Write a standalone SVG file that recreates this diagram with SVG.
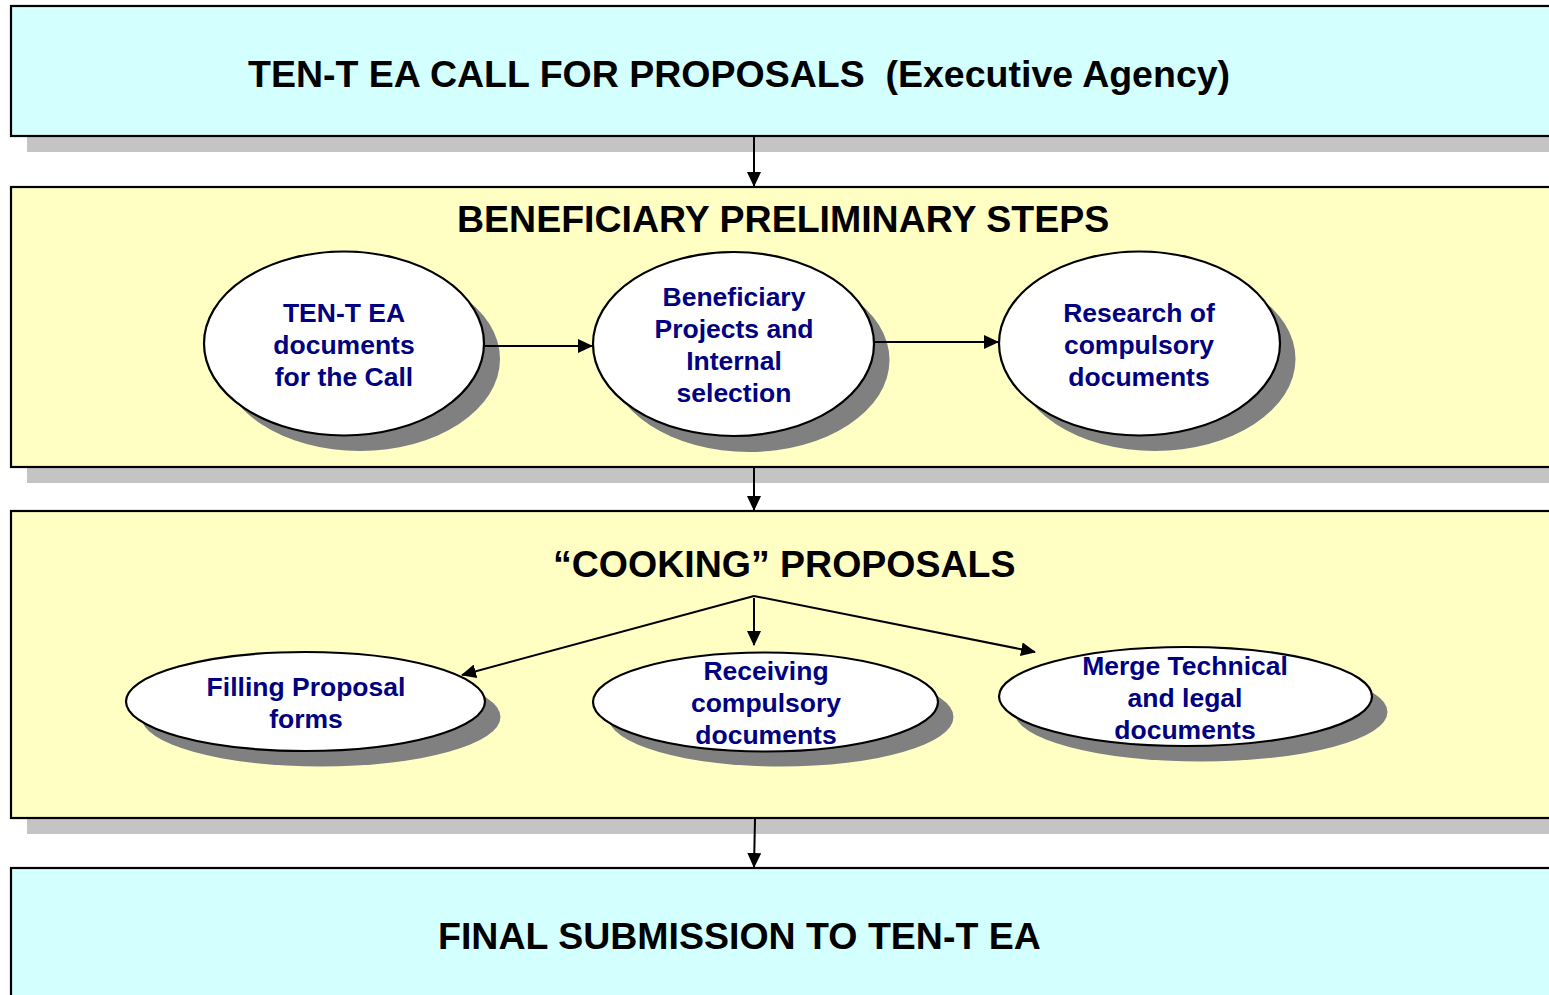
<svg xmlns="http://www.w3.org/2000/svg" width="1549" height="995" viewBox="0 0 1549 995">
<style>
.box{stroke:#000;stroke-width:2.2}
.cyan{fill:#d4ffff}
.yel{fill:#ffffc4}
.bsh{fill:#c4c4c4}
.esh{fill:#808080}
.ell{fill:#fff;stroke:#000;stroke-width:2.2}
.title{font-family:"Liberation Sans",Arial,sans-serif;font-weight:bold;font-size:37.5px;fill:#000}
.lbl{font-family:"Liberation Sans",Arial,sans-serif;font-weight:bold;font-size:26.5px;fill:#000080;text-anchor:middle}
.con{stroke:#000;stroke-width:2;fill:none;marker-end:url(#ah)}
</style>
<defs>
<marker id="ah" markerWidth="15" markerHeight="14" refX="14" refY="7" orient="auto" markerUnits="userSpaceOnUse">
<path d="M0,0 L15,7 L0,14 z" fill="#000"/>
</marker>
</defs>
<rect width="1549" height="995" fill="#fff"/>

<g id="box-call">
<rect class="bsh" x="27" y="136" width="1540" height="16"/>
<rect class="box cyan" x="11" y="6" width="1560" height="130"/>
<text class="title" x="248" y="87" xml:space="preserve">TEN-T EA CALL FOR PROPOSALS  (Executive Agency)</text>
</g>

<g id="box-preliminary">
<rect class="bsh" x="27" y="467" width="1540" height="16"/>
<rect class="box yel" x="11" y="187" width="1560" height="280"/>
<text class="title" x="457" y="232">BENEFICIARY PRELIMINARY STEPS</text>
</g>

<g id="box-cooking">
<rect class="bsh" x="27" y="818" width="1540" height="16"/>
<rect class="box yel" x="11" y="511" width="1560" height="307"/>
<text class="title" x="553" y="577">“COOKING” PROPOSALS</text>
</g>

<g id="box-final">
<rect class="box cyan" x="11" y="868" width="1560" height="140"/>
<text class="title" x="438" y="949">FINAL SUBMISSION TO TEN-T EA</text>
</g>

<g id="node-ten-t-docs">
<ellipse class="esh" cx="360" cy="359" rx="140" ry="92"/>
<ellipse class="ell" cx="344" cy="343.5" rx="140" ry="92"/>
<text class="lbl" x="344" y="322">TEN-T EA</text>
<text class="lbl" x="344" y="354">documents</text>
<text class="lbl" x="344" y="386">for the Call</text>
</g>

<g id="node-beneficiary-projects">
<ellipse class="esh" cx="749" cy="360" rx="140.5" ry="92"/>
<ellipse class="ell" cx="733.5" cy="344" rx="140.5" ry="92"/>
<text class="lbl" x="734" y="306">Beneficiary</text>
<text class="lbl" x="734" y="338">Projects and</text>
<text class="lbl" x="734" y="370">Internal</text>
<text class="lbl" x="734" y="402">selection</text>
</g>

<g id="node-research">
<ellipse class="esh" cx="1155" cy="359" rx="140.5" ry="92"/>
<ellipse class="ell" cx="1139.5" cy="343.5" rx="140.5" ry="92"/>
<text class="lbl" x="1139" y="322">Research of</text>
<text class="lbl" x="1139" y="354">compulsory</text>
<text class="lbl" x="1139" y="386">documents</text>
</g>

<g id="node-filling">
<ellipse class="esh" cx="321" cy="717" rx="179.5" ry="49.5"/>
<ellipse class="ell" cx="305.5" cy="701.5" rx="179.5" ry="49.5"/>
<text class="lbl" x="306" y="696">Filling Proposal</text>
<text class="lbl" x="306" y="728">forms</text>
</g>

<g id="node-receiving">
<ellipse class="esh" cx="781" cy="717" rx="172.5" ry="49.5"/>
<ellipse class="ell" cx="765.5" cy="702" rx="172.5" ry="49.5"/>
<text class="lbl" x="766" y="680">Receiving</text>
<text class="lbl" x="766" y="712">compulsory</text>
<text class="lbl" x="766" y="744">documents</text>
</g>

<g id="node-merge">
<ellipse class="esh" cx="1201" cy="712" rx="186.5" ry="49.5"/>
<ellipse class="ell" cx="1185.5" cy="696.5" rx="186.5" ry="49.5"/>
<text class="lbl" x="1185" y="675">Merge Technical</text>
<text class="lbl" x="1185" y="707">and legal</text>
<text class="lbl" x="1185" y="739">documents</text>
</g>

<g id="connectors">
<line class="con" x1="754" y1="137" x2="754" y2="186"/>
<line class="con" x1="485" y1="346" x2="592" y2="346"/>
<line class="con" x1="875" y1="342" x2="998" y2="342"/>
<line class="con" x1="754" y1="468" x2="754" y2="510"/>
<line class="con" x1="754" y1="596" x2="462" y2="675"/>
<line class="con" x1="754" y1="598" x2="754" y2="645"/>
<line class="con" x1="754" y1="596" x2="1035" y2="652"/>
<line class="con" x1="755" y1="819" x2="754" y2="867"/>
</g>
</svg>
